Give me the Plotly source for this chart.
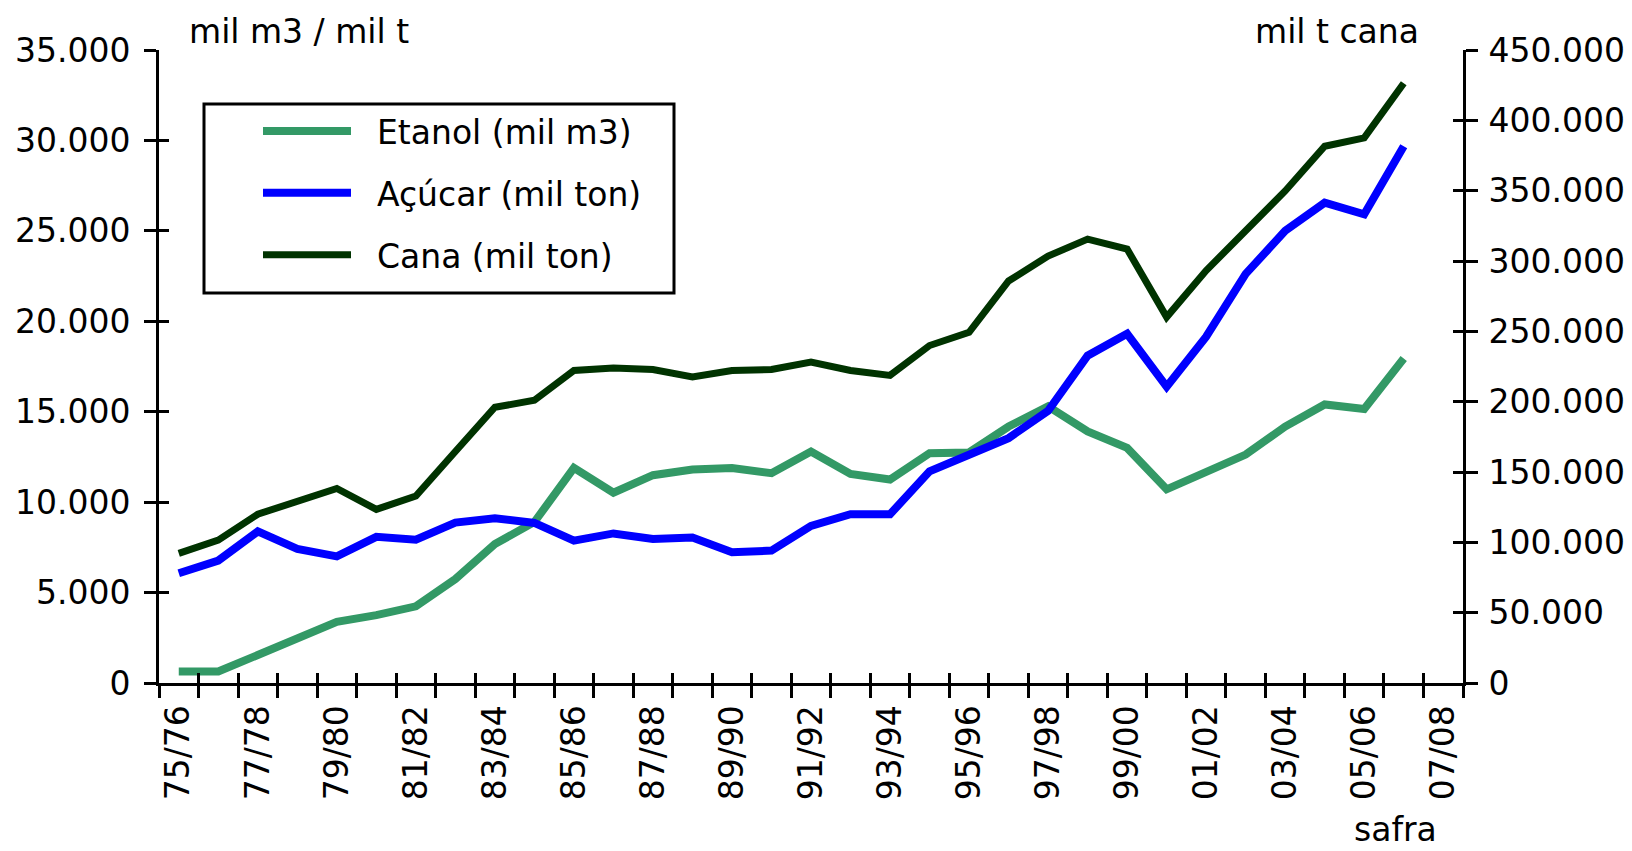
import plotly.graph_objects as go

# ---- data -------------------------------------------------------------
safras = ["75/76", "76/77", "77/78", "78/79", "79/80", "80/81", "81/82", "82/83",
          "83/84", "84/85", "85/86", "86/87", "87/88", "88/89", "89/90", "90/91",
          "91/92", "92/93", "93/94", "94/95", "95/96", "96/97", "97/98", "98/99",
          "99/00", "00/01", "01/02", "02/03", "03/04", "04/05", "05/06", "06/07",
          "07/08"]

etanol = [640, 640, 1550, 2470, 3380, 3750, 4240, 5750, 7680, 8900, 11890, 10520,
          11490, 11800, 11890, 11600, 12800, 11560, 11250, 12710, 12750, 14180,
          15300, 13910, 13000, 10710, 11620, 12630, 14180, 15400, 15150, 17940]

acucar = [6070, 6770, 8380, 7410, 7000, 8080, 7920, 8870, 9110, 8850, 7870, 8270,
          7960, 8050, 7230, 7320, 8690, 9330, 9330, 11700, 12620, 13540, 15050,
          18100, 19310, 16380, 19150, 22620, 25000, 26560, 25920, 29680]

cana = [92200, 101600, 120000, 128600, 138300, 123400, 132900, 164600, 196000,
        201000, 222200, 223900, 222900, 217500, 222200, 222900, 228100, 222200,
        218700, 239900, 249300, 285800, 303500, 315600, 308500, 260100, 293200,
        321500, 349800, 381600, 387500, 426400]

tick_labels = [s if i % 2 == 0 else "" for i, s in enumerate(safras)]
NB = "\u00a0\u00a0"
names = [NB + "Etanol (mil m3)", NB + "Açúcar (mil ton)", NB + "Cana (mil ton)"]

# ---- style ------------------------------------------------------------
FONT = "DejaVu Sans"
FS = 33
C_ETANOL = "#339966"
C_ACUCAR = "#0000FF"
C_CANA = "#003300"
W, H = 1632, 851
ML, MR, MT, MB = 159, 169, 50, 168
WP, HP = W - ML - MR, H - MT - MB
n = len(safras)
boundaries = [k - 0.5 for k in range(n + 1)]


def px_x(p):
    return (p - ML) / WP


def px_y(p):
    return 1 - (p - MT) / HP


fig = go.Figure()

fig.add_trace(go.Scatter(x=safras[:len(etanol)], y=etanol, name=names[0],
                         mode="lines", line=dict(color=C_ETANOL, width=8),
                         legendgroup="a", xaxis="x", yaxis="y"))
fig.add_trace(go.Scatter(x=safras[:len(acucar)], y=acucar, name=names[1],
                         mode="lines", line=dict(color=C_ACUCAR, width=8),
                         legendgroup="b", xaxis="x", yaxis="y"))
fig.add_trace(go.Scatter(x=safras[:len(cana)], y=cana, name=names[2],
                         mode="lines", line=dict(color=C_CANA, width=7),
                         legendgroup="c", xaxis="x", yaxis="y2"))

# invisible helper traces on a coincident subplot (x2/y3/y4) that carries the
# inner half of the crossing tick marks
fig.add_trace(go.Scatter(x=[0], y=[0], xaxis="x2", yaxis="y3", mode="markers",
                         marker=dict(opacity=0), showlegend=False, hoverinfo="skip"))
fig.add_trace(go.Scatter(x=[0], y=[0], xaxis="x2", yaxis="y4", mode="markers",
                         marker=dict(opacity=0), showlegend=False, hoverinfo="skip"))

tickfont = dict(family=FONT, size=FS, color="black")
inner = dict(ticks="inside", ticklen=10, tickwidth=3, tickcolor="black",
             showticklabels=False, showline=False, showgrid=False,
             zeroline=False, automargin=False, fixedrange=True)

fig.update_layout(
    width=W, height=H,
    margin=dict(l=ML, r=MR, t=MT, b=MB, autoexpand=False),
    paper_bgcolor="white", plot_bgcolor="rgba(0,0,0,0)",
    separators=",.",
    font=dict(family=FONT, size=FS, color="black"),
    xaxis=dict(type="category", categoryorder="array", categoryarray=safras,
               range=[-0.5, n - 0.5], tickmode="array", tickvals=safras,
               ticktext=tick_labels, tickson="boundaries", ticks="outside",
               ticklen=12, tickwidth=3, tickcolor="black", tickangle=-90,
               showline=True, linewidth=3, linecolor="black",
               ticklabelstandoff=6, showgrid=False, zeroline=False,
               automargin=False, tickfont=tickfont),
    yaxis=dict(range=[0, 35000], tick0=0, dtick=5000, tickformat=",d",
               ticks="outside", ticklen=12, tickwidth=3, tickcolor="black",
               showline=True, linewidth=3, linecolor="black",
               ticklabelstandoff=7, showgrid=False, zeroline=False,
               automargin=False, tickfont=tickfont),
    yaxis2=dict(overlaying="y", side="right", anchor="x", range=[0, 450000],
                tick0=0, dtick=50000, tickformat=",d", ticks="outside",
                ticklen=12, tickwidth=3, tickcolor="black", showline=True,
                linewidth=3, linecolor="black", ticklabelstandoff=4,
                showgrid=False, zeroline=False, automargin=False,
                tickfont=tickfont),
    xaxis2=dict(domain=[0, 1], anchor="y3", side="bottom", range=[-0.5, n - 0.5],
                tickmode="array", tickvals=boundaries, **inner),
    yaxis3=dict(domain=[0, 1], anchor="x2", side="left", range=[0, 35000],
                tick0=0, dtick=5000, **inner),
    yaxis4=dict(overlaying="y3", anchor="x2", side="right", range=[0, 450000],
                tick0=0, dtick=50000, **inner),
    legend=dict(x=px_x(258), y=px_y(103), xanchor="left", yanchor="top",
                borderwidth=0, bgcolor="rgba(0,0,0,0)",
                font=dict(family=FONT, size=FS, color="black"),
                tracegroupgap=16, itemwidth=88, traceorder="grouped"),
    showlegend=True,
    shapes=[dict(type="rect", xref="paper", yref="paper",
                 x0=px_x(204), x1=px_x(674), y0=px_y(293), y1=px_y(104),
                 line=dict(color="black", width=3), layer="above")],
    annotations=[
        dict(text="mil m3 / mil t", x=px_x(187), y=px_y(32), xanchor="left",
             yanchor="middle"),
        dict(text="mil t cana", x=px_x(1421), y=px_y(32), xanchor="right",
             yanchor="middle"),
        dict(text="safra", x=px_x(1395), y=px_y(829), xanchor="center",
             yanchor="middle"),
    ],
)
fig.update_annotations(xref="paper", yref="paper", showarrow=False,
                       font=dict(family=FONT, size=FS, color="black"))

fig.write_html(
    "out.html",
    config={"displayModeBar": False},
    post_script="document.body.style.margin='0';document.body.style.padding='0';"
                "document.body.style.overflow='hidden';",
)
